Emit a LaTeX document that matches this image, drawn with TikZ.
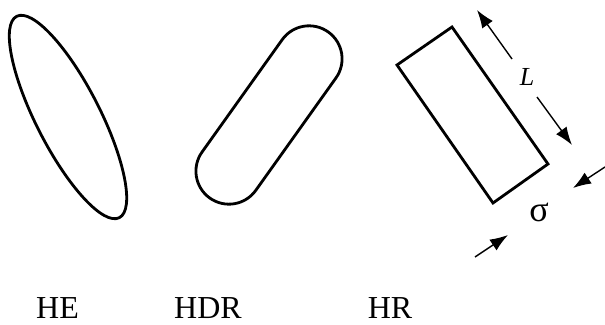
\documentclass[tikz,border=0pt]{standalone}
\usepackage{fontspec}
\setmainfont{Liberation Serif}
\newfontfamily\timesfont{Liberation Serif}
\usetikzlibrary{arrows.meta}
\tikzset{
  shape line/.style={line width=2.8pt, line join=round},
  dim arrow/.style={line width=1.4pt, -{Latex[length=18pt,width=13pt]}},
  lbl/.style={font=\timesfont\fontsize{32}{36}\selectfont, inner sep=0pt}
}
\begin{document}
\begin{tikzpicture}[x=1pt,y=1pt]
\useasboundingbox (0,0) rectangle (605,324);
% HE ellipse
\draw[shape line, shift={(68,207)}, rotate=-63] (0,0) ellipse [x radius=113pt, y radius=32pt];
% HDR stadium
\draw[shape line, shift={(269,209)}, rotate=54.5, rounded corners=33pt] (-102,-33) rectangle (102,33);
% HR rectangle
\coordinate (A) at (397,259);
\coordinate (B) at (452,297);
\coordinate (C) at (548,160);
\coordinate (D) at (493,121);
\draw[shape line, line join=miter] (A) -- (B) -- (C) -- (D) -- cycle;
% L arrows
\node[inner sep=0pt, font=\timesfont\fontsize{26}{30}\selectfont\itshape] (L) at (527,247) {L};
\coordinate (L1s) at (512,265);
\coordinate (L1e) at (477,314);
\coordinate (L2s) at (537,227);
\coordinate (L2e) at (572,179);
\draw[dim arrow] (L1s) -- (L1e);
\draw[dim arrow] (L2s) -- (L2e);
% sigma arrows
\node[inner sep=0pt, font=\timesfont\fontsize{36}{40}\selectfont] (sig) at (539,112) {σ};
\coordinate (S1s) at (605,157);
\coordinate (S1e) at (573,136);
\coordinate (S2s) at (475,67);
\coordinate (S2e) at (508,89);
\draw[dim arrow] (S1s) -- (S1e);
\draw[dim arrow] (S2s) -- (S2e);
% labels
\node[lbl] (he) at (57.5,16) {HE};
\node[lbl] (hdr) at (208,16) {HDR};
\node[lbl] (hr) at (390,16) {HR};
\end{tikzpicture}
\end{document}
